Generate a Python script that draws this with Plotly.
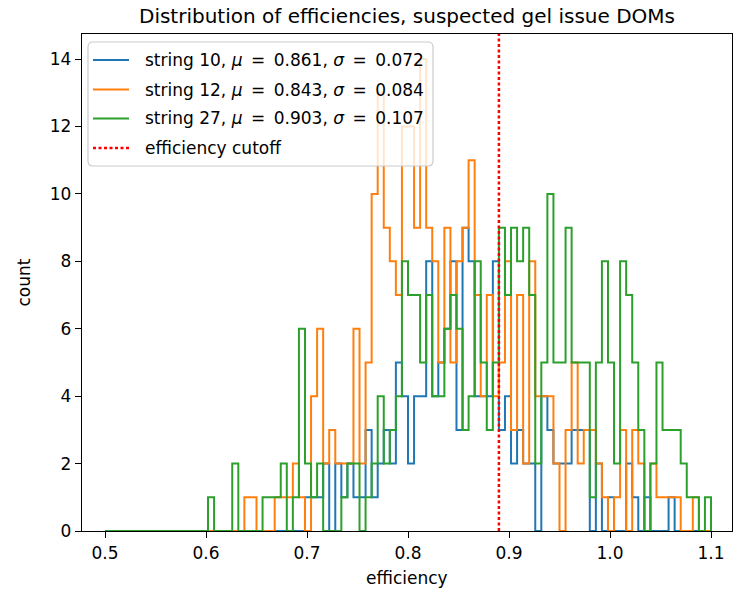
import numpy as np
import plotly.graph_objects as go

# ---------------- data ----------------
bin_start, bin_stop, n_bins = 0.5, 1.1, 100

string10 = [0]*33 + [1, 1, 1, 2, 0, 2, 1, 2, 1, 1, 3, 1, 2, 3, 2, 5, 4, 2, 4, 4, 8, 4,
                     5, 6, 8, 3, 9, 8, 4, 4, 4, 8, 3, 4, 2, 3, 2, 2, 0, 4, 3, 2, 2, 2,
                     3, 3, 3, 0, 2, 0, 1, 0, 0, 2, 1, 0, 1, 0, 0, 0, 1, 0, 0, 0, 0, 0, 0]
string12 = [0]*23 + [1, 1, 0, 0, 0, 1, 1, 1, 2, 1, 0, 4, 6, 2, 3, 2, 2, 2, 6, 2, 5, 10,
                     13, 9, 8, 7, 12, 12, 9, 14, 9, 8, 5, 9, 5, 8, 9, 11, 7, 4, 7, 4, 5,
                     8, 3, 7, 2, 8, 4, 4, 4, 2, 0, 3, 5, 2, 3, 3, 2, 1, 0, 1, 3, 0, 3, 2,
                     0, 2, 1, 1, 1, 1, 0, 0, 1, 0, 0]
string27 = [0]*17 + [1, 0, 0, 0, 2, 0, 0, 0, 0, 1, 1, 1, 2, 0, 1, 6, 2, 1, 2, 0, 0, 0, 1,
                     2, 2, 0, 1, 2, 4, 2, 3, 4, 8, 7, 7, 5, 7, 4, 4, 6, 7, 6, 3, 4, 8, 5,
                     3, 5, 9, 7, 9, 8, 9, 7, 2, 5, 10, 5, 5, 9, 5, 5, 5, 1, 5, 8, 5, 2, 8,
                     7, 5, 3, 0, 2, 5, 3, 3, 3, 2, 1, 1, 0, 1]

SP = "\u2002"
labels = [f"string 10, <i>μ</i>{SP}={SP}0.861, <i>σ</i>{SP}={SP}0.072",
          f"string 12, <i>μ</i>{SP}={SP}0.843, <i>σ</i>{SP}={SP}0.084",
          f"string 27, <i>μ</i>{SP}={SP}0.903, <i>σ</i>{SP}={SP}0.107"]
cutoff = 0.89
cutoff_label = "efficiency cutoff"
title = "Distribution of efficiencies, suspected gel issue DOMs"
x_label, y_label = "efficiency", "count"
x_ticks = [0.5, 0.6, 0.7, 0.8, 0.9, 1.0, 1.1]
y_ticks = [0, 2, 4, 6, 8, 10, 12, 14]

# ---------------- style ----------------
colors = ["#1f77b4", "#ff7f0e", "#2ca02c"]
W, H = 733, 591
L, R, T, B = 82, 732, 34, 531
FONT = "DejaVu Sans"
FS = 17
xr = [0.47723, 1.12079]
yr = [0, 14.745]

edges = np.linspace(bin_start, bin_stop, n_bins + 1)


def step_xy(counts):
    xs = [edges[0]] + list(edges[:-1]) + [edges[-1], edges[-1]]
    ys = [0] + list(counts) + [counts[-1], 0]
    return xs, ys


fig = go.Figure()
for cnt, col in zip([string10, string12, string27], colors):
    xs, ys = step_xy(cnt)
    fig.add_trace(go.Scatter(x=xs, y=ys, mode="lines",
                             line=dict(color=col, width=2.0, shape="hv"),
                             showlegend=False, hoverinfo="skip"))

fig.add_shape(type="line", xref="x", yref="paper", x0=cutoff, x1=cutoff, y0=0, y1=1,
              line=dict(color="#ff0000", width=2.5, dash="3px,2.5px"))


def px(x):
    return (x - L) / (R - L)


def py(y):
    return (B - y) / (B - T)


# legend box (drawn manually, matplotlib style)
lx0, lx1, ly0, ly1, r = 88, 433, 42, 166, 5
path = (f"M {px(lx0+r)} {py(ly0)} L {px(lx1-r)} {py(ly0)} Q {px(lx1)} {py(ly0)} {px(lx1)} {py(ly0+r)} "
        f"L {px(lx1)} {py(ly1-r)} Q {px(lx1)} {py(ly1)} {px(lx1-r)} {py(ly1)} "
        f"L {px(lx0+r)} {py(ly1)} Q {px(lx0)} {py(ly1)} {px(lx0)} {py(ly1-r)} "
        f"L {px(lx0)} {py(ly0+r)} Q {px(lx0)} {py(ly0)} {px(lx0+r)} {py(ly0)} Z")
fig.add_shape(type="path", xref="paper", yref="paper", path=path,
              fillcolor="rgba(255,255,255,0.8)", line=dict(color="#cccccc", width=1.2), layer="above")

rows = [60, 89.5, 118.5, 148]
entries = list(zip(labels, colors, ["solid"] * 3)) + [(cutoff_label, "#ff0000", "3px,2.5px")]
for yy, (lab, col, dash) in zip(rows, entries):
    fig.add_shape(type="line", xref="paper", yref="paper", x0=px(93), x1=px(129), y0=py(yy), y1=py(yy),
                  line=dict(color=col, width=2.5 if dash != "solid" else 2.0, dash=dash), layer="above")
    fig.add_annotation(xref="paper", yref="paper", x=px(143), y=py(yy), text=lab, showarrow=False,
                       xanchor="left", yanchor="middle", font=dict(family=FONT, size=FS, color="black"))

# axis titles
fig.add_annotation(xref="paper", yref="paper", x=0.5, y=py(578), text=x_label, showarrow=False,
                   xanchor="center", yanchor="middle", font=dict(family=FONT, size=FS, color="black"))
fig.add_annotation(xref="paper", yref="paper", x=px(23), y=0.5, text=y_label, showarrow=False, textangle=-90,
                   xanchor="center", yanchor="middle", font=dict(family=FONT, size=FS, color="black"))

axis_common = dict(showline=True, linecolor="black", linewidth=1.3, mirror=True, ticks="outside",
                   ticklen=6, tickwidth=1.3, tickcolor="black", showgrid=False, zeroline=False,
                   automargin=False, tickfont=dict(family=FONT, size=FS, color="black"))
fig.update_xaxes(range=xr, tickvals=x_ticks, ticktext=[f"{v:.1f}" for v in x_ticks], **axis_common)
fig.update_yaxes(range=yr, tickvals=y_ticks, ticktext=[str(v) for v in y_ticks], **axis_common)

fig.update_layout(width=W, height=H, margin=dict(l=L, r=W - R, t=T, b=H - B, autoexpand=False),
                  paper_bgcolor="white", plot_bgcolor="white",
                  title=dict(text=title, x=(L + R) / 2 / W, xanchor="center", y=1 - 16 / H, yanchor="middle",
                             font=dict(family=FONT, size=20, color="black"), automargin=False),
                  showlegend=False)

fig.write_html("out.html", config={"displayModeBar": False},
               post_script="document.body.style.margin='0';document.body.style.padding='0';"
                           "document.body.style.overflow='hidden';")
